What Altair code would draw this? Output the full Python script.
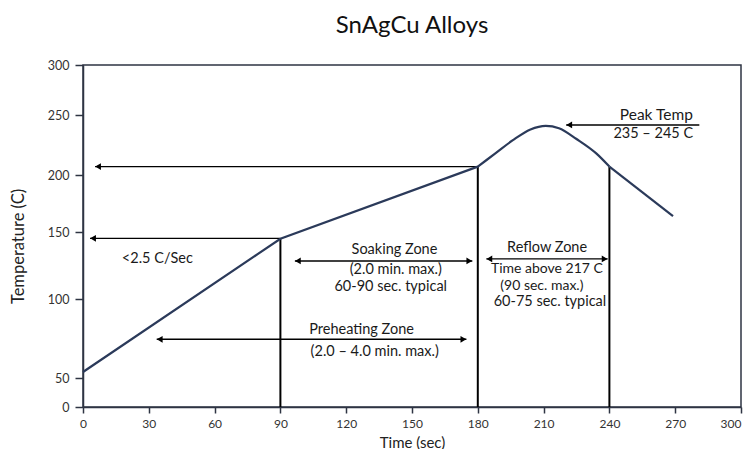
import altair as alt
import pandas as pd

# ---------------- data ----------------
# reflow temperature profile (time in s, temperature in C)
profile_time = [0, 90, 180]
profile_temp = [54, 145, 207]
peak_time = [180, 188, 196, 204, 211, 217, 225, 234, 240]
peak_temp = [207, 218, 229, 238, 241, 239, 230, 218, 207]
cool_time = [240, 269]
cool_temp = [207, 164]

# vertical zone boundaries
vline_time = [90, 180, 240]
vline_top = [145, 207, 207]

# horizontal arrows: start, end, level, heads
arrow_x1 = [180, 90, 96.6, 33.6, 183.9, 281]
arrow_x2 = [5.5, 3.2, 177.5, 174.8, 239.2, 220.3]
arrow_y = [207, 145.3, 128.5, 74.7, 130, 241.7]
arrow_heads = ["end", "end", "both", "both", "both", "end"]

# annotation texts
label_text = ["<2.5 C/Sec", "Soaking Zone", "(2.0 min. max.)", "60-90 sec. typical",
              "Preheating Zone", "(2.0 \u2013 4.0 min. max.)", "Reflow Zone",
              "Time above 217 C", "(90 sec. max.)", "60-75 sec. typical",
              "Peak Temp", "235 \u2013 245 C"]
label_x = [33.9, 142, 142.6, 140.3, 127, 133, 211.6, 211.5, 209.2, 212.9, 261.4, 260]
label_y = [130, 136.3, 121.8, 108.9, 80.6, 66.8, 137.9, 122.2, 109.6, 98.2, 250, 234.2]
label_size = [14.5, 14.5, 14.5, 14.5, 14.5, 14.5, 14.5, 14, 14, 14.5, 15.5, 14.5]

x_ticks = [0, 30, 60, 90, 120, 150, 180, 210, 240, 270, 300]
y_ticks = [0, 50, 100, 150, 200, 250, 300]

# ---------------- layout ----------------
W, H = 658, 342
FONT = "Lato"
AXIS_COLOR = "#2e3443"
# the reference's y axis is unevenly spaced; reproduce with a piecewise scale
y_range = [342, 313.3, 234.3, 167, 110, 50, 0]

xs = alt.Scale(domain=[0, 300], nice=False, zero=False)
ys = alt.Scale(domain=y_ticks, range=y_range, nice=False, zero=False)

x_axis = alt.Axis(values=x_ticks, title="Time (sec)", grid=False, tickSize=6,
                  labelPadding=5, labelFontSize=12, labelFont=FONT, labelColor="#333333",
                  labelFlush=False,
                  labelAlign=alt.condition("datum.value == 300", alt.value("right"), alt.value("center")),
                  titleFont=FONT, titleFontSize=15, titleFontWeight="normal",
                  titleColor="#222222", titleY=35, titleBaseline="middle",
                  domainColor=AXIS_COLOR, tickColor=AXIS_COLOR, domainWidth=1.5, tickWidth=1.5)
y_axis = alt.Axis(values=y_ticks, title="Temperature (C)", grid=False, tickSize=8,
                  labelPadding=6, labelFontSize=12.5, labelFont=FONT, labelColor="#333333",
                  titleFont=FONT, titleFontSize=16.5, titleFontWeight="normal",
                  titleColor="#222222", titleX=-65, titleY=181, titleBaseline="middle",
                  domainColor=AXIS_COLOR, tickColor=AXIS_COLOR, domainWidth=1.5, tickWidth=1.5)

X = lambda f: alt.X(f, type="quantitative", scale=xs, axis=x_axis)
Y = lambda f: alt.Y(f, type="quantitative", scale=ys, axis=y_axis)

straight = pd.DataFrame({
    "t": profile_time + cool_time,
    "temp": profile_temp + cool_temp,
    "part": ["heat"] * len(profile_time) + ["cool"] * len(cool_time),
})
curve = pd.DataFrame({"t": peak_time, "temp": peak_temp})
vlines = pd.DataFrame({"t": vline_time, "top": vline_top, "bottom": [0] * len(vline_time)})
arrows = pd.DataFrame({"x1": arrow_x1, "x2": arrow_x2, "y": arrow_y, "heads": arrow_heads})

heads_rows = []
for a, b, yv, h in zip(arrow_x1, arrow_x2, arrow_y, arrow_heads):
    heads_rows.append({"x": b, "y": yv, "dir": "left" if b < a else "right"})
    if h == "both":
        heads_rows.append({"x": a, "y": yv, "dir": "left" if a < b else "right"})
heads = pd.DataFrame(heads_rows)
labels = pd.DataFrame({"text": label_text, "x": label_x, "y": label_y, "size": label_size})

LINE_COLOR = "#2b3a5a"

line_straight = alt.Chart(straight).mark_line(color=LINE_COLOR, strokeWidth=2.2).encode(
    x=X("t"), y=Y("temp"), detail="part:N")
line_curve = alt.Chart(curve).mark_line(color=LINE_COLOR, strokeWidth=2.2,
                                        interpolate="monotone").encode(x=X("t"), y=Y("temp"))
vrules = alt.Chart(vlines).mark_rule(color="black", strokeWidth=2).encode(
    x=X("t"), y=Y("top"), y2="bottom")
hrules = alt.Chart(arrows).mark_rule(color="black", strokeWidth=1.4).encode(
    x=X("x1"), x2="x2", y=Y("y"))
left_heads = alt.Chart(heads).transform_filter(alt.datum.dir == "left").mark_point(
    shape="triangle-left", filled=True, color="black", opacity=1, size=45, xOffset=3).encode(
    x=X("x"), y=Y("y"))
right_heads = alt.Chart(heads).transform_filter(alt.datum.dir == "right").mark_point(
    shape="triangle-right", filled=True, color="black", opacity=1, size=45, xOffset=-3).encode(
    x=X("x"), y=Y("y"))
texts = alt.Chart(labels).mark_text(font=FONT, color="#1a1a1a", align="center",
                                    baseline="middle").encode(
    x=X("x"), y=Y("y"), text="text:N",
    size=alt.Size("size:Q", scale=None, legend=None))

chart = alt.layer(vrules, hrules, left_heads, right_heads, line_straight, line_curve, texts).properties(
    width=W, height=H,
    title=alt.TitleParams("SnAgCu Alloys", font=FONT, fontSize=24, fontWeight="normal",
                          color="#111111", anchor="middle", offset=21),
    autosize=alt.AutoSizeParams(type="none"),
    padding={"left": 75, "top": 57, "right": 3, "bottom": 42},
).configure_view(stroke=AXIS_COLOR, strokeWidth=1.5)

chart.save("out.html", embed_options={"renderer": "svg", "actions": False})
